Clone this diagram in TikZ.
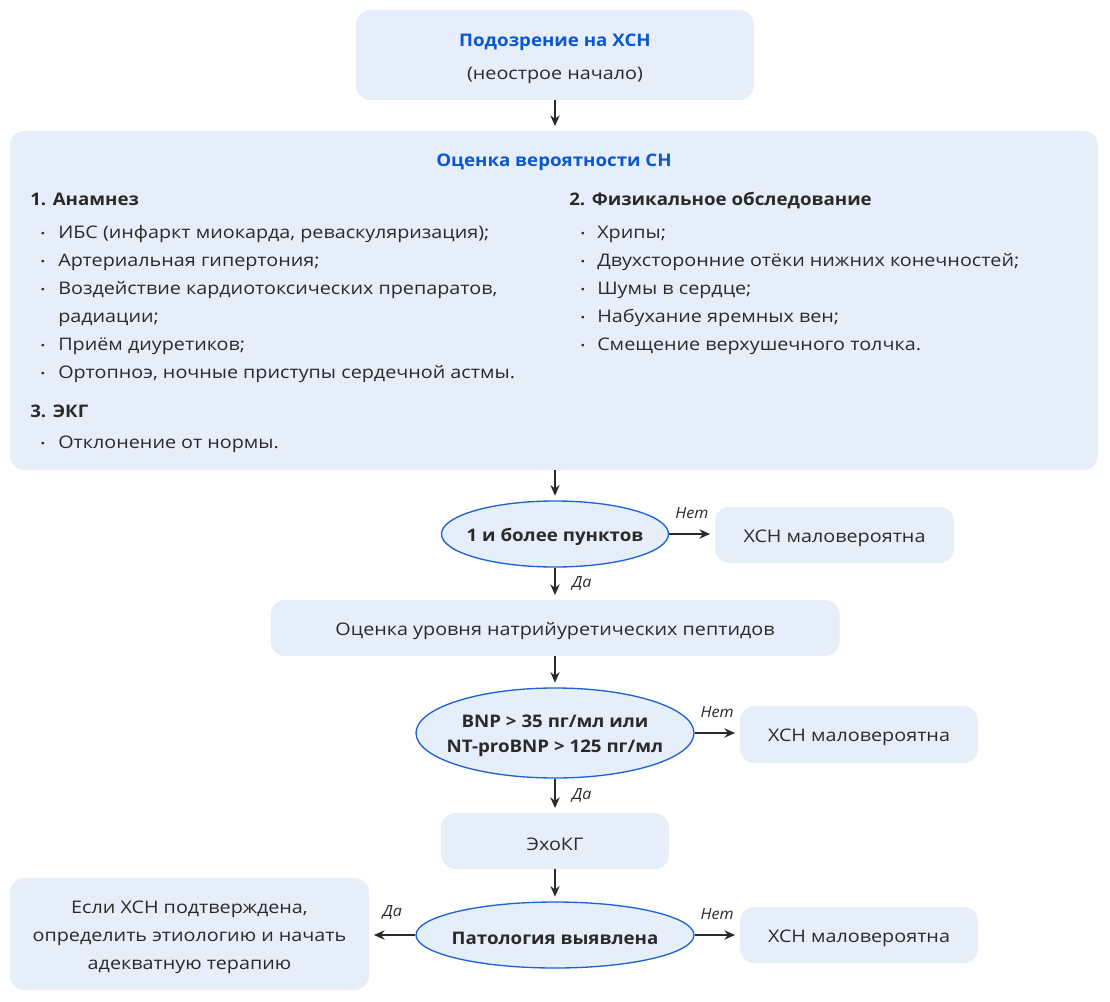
\documentclass[tikz,border=0pt]{standalone}
\usepackage{fontspec}
\setmainfont{Open Sans}[FakeStretch=1.14, BoldFeatures={FakeStretch=1.08}, ItalicFeatures={FakeStretch=1.05}]
\usetikzlibrary{arrows.meta,shapes.geometric}
\definecolor{boxfill}{HTML}{E6EEFA}
\definecolor{blueline}{HTML}{1B63D6}
\definecolor{titleblue}{HTML}{0B57D0}
\definecolor{txt}{HTML}{2A2A2A}
\tikzset{
  base/.style={font=\fontsize{13}{15}\selectfont, text=txt},
  box/.style={fill=boxfill, rounded corners=11pt, inner sep=0pt},
  tx/.style={base, align=center, inner sep=0pt, yshift=-2.3pt},
  dec/.style={ellipse, draw=blueline, line width=1pt, fill=boxfill, inner sep=0pt},
  dtext/.style={base, font=\fontsize{13}{15}\selectfont\bfseries, align=center, inner sep=0pt, yshift=-2.3pt},
  ttl/.style={base, font=\fontsize{13}{15}\selectfont\bfseries, text=titleblue, inner sep=0pt, yshift=-1.5pt},
  hd/.style={base, font=\fontsize{13}{15}\selectfont\bfseries, anchor=mid west, inner sep=0pt, yshift=-2.8pt},
  it/.style={base, anchor=mid west, inner sep=0pt, yshift=-2.8pt},
  bul/.style={base, anchor=center, inner sep=0pt, font=\fontsize{8}{8}\selectfont, yshift=-2.8pt},
  arr/.style={-{Stealth[length=8pt,width=7pt]}, line width=1.1pt, draw=txt},
  lbl/.style={base, font=\fontsize{11.5}{13}\selectfont\itshape}
}
\begin{document}
\begin{tikzpicture}[x=0.75pt,y=-0.75pt]
\useasboundingbox (0,0) rectangle (1110,1002);
\fill[white] (0,0) rectangle (1110,1002);

% top box
\node[box, minimum width=298.5pt, minimum height=67.5pt] (top) at (555,55) {};
\node[ttl] (topt) at (555,40) {Подозрение на ХСН};
\node[tx] (tops) at (555,72) {(неострое начало)};

% big box
\node[box, minimum width=816pt, minimum height=254.25pt] (big) at (554,300.5) {};
\node[ttl] (bigt) at (554,160) {Оценка вероятности СН};
\node[hd] (h1) at (30,198) {1. Анамнез};
\node[bul] (b11) at (43,231) {•}; \node[it] (l11) at (58,231) {ИБС (инфаркт миокарда, реваскуляризация);};
\node[bul] (b12) at (43,259) {•}; \node[it] (l12) at (58,259) {Артериальная гипертония;};
\node[bul] (b13) at (43,287) {•}; \node[it] (l13) at (58,287) {Воздействие кардиотоксических препаратов,};
\node[it] (l14) at (58,315) {радиации;};
\node[bul] (b15) at (43,343) {•}; \node[it] (l15) at (58,343) {Приём диуретиков;};
\node[bul] (b16) at (43,371) {•}; \node[it] (l16) at (58,371) {Ортопноэ, ночные приступы сердечной астмы.};
\node[hd] (h3) at (30,410) {3. ЭКГ};
\node[bul] (b31) at (43,441) {•}; \node[it] (l31) at (58,441) {Отклонение от нормы.};
\node[hd] (h2) at (569,198) {2. Физикальное обследование};
\node[bul] (b21) at (583,231) {•}; \node[it] (l21) at (597,231) {Хрипы;};
\node[bul] (b22) at (583,259) {•}; \node[it] (l22) at (597,259) {Двухсторонние отёки нижних конечностей;};
\node[bul] (b23) at (583,287) {•}; \node[it] (l23) at (597,287) {Шумы в сердце;};
\node[bul] (b24) at (583,315) {•}; \node[it] (l24) at (597,315) {Набухание яремных вен;};
\node[bul] (b25) at (583,343) {•}; \node[it] (l25) at (597,343) {Смещение верхушечного толчка.};

% decision 1
\node[dec, minimum width=170.25pt, minimum height=49.5pt] (d1) at (555,534) {};
\node[dtext] (d1t) at (d1) {1 и более пунктов};
\node[box, minimum width=179.25pt, minimum height=42pt] (n1) at (834.5,535) {};
\node[tx] (n1t) at (n1) {ХСН маловероятна};

% peptides
\node[box, minimum width=426.75pt, minimum height=42pt] (pep) at (555,628) {};
\node[tx] (pept) at (pep) {Оценка уровня натрийуретических пептидов};

% decision 2
\node[dec, minimum width=208.5pt, minimum height=67.5pt] (d2) at (555,733) {};
\node[dtext] (d2t) at (d2) {BNP > 35 пг/мл или\\[4pt]NT-proBNP > 125 пг/мл};
\node[box, minimum width=178.5pt, minimum height=42.75pt] (n2) at (859,734.5) {};
\node[tx] (n2t) at (n2) {ХСН маловероятна};

% echo
\node[box, minimum width=171pt, minimum height=42pt] (echo) at (555,841) {};
\node[tx] (echot) at (echo) {ЭхоКГ};

% decision 3
\node[dec, minimum width=208.5pt, minimum height=49.5pt] (d3) at (555,935) {};
\node[dtext] (d3t) at (d3) {Патология выявлена};
\node[box, minimum width=178.5pt, minimum height=42pt] (n3) at (859,935) {};
\node[tx] (n3t) at (n3) {ХСН маловероятна};
\node[box, minimum width=269.25pt, minimum height=84pt] (yes) at (189.5,934) {};
\node[tx, font=\fontsize{13}{21}\selectfont] (yest) at (yes) {Если ХСН подтверждена,\\определить этиологию и начать\\адекватную терапию};

% arrows
\draw[arr, shorten >=3.5pt] (top.south) -- (top.south |- big.north);
\draw[arr, shorten >=3.5pt] (d1.north |- big.south) -- (d1.north);
\draw[arr, shorten >=3.5pt] (d1.east) -- (n1.west |- d1.east) node[lbl, midway, above=8pt] (nl1) {Нет};
\draw[arr, shorten >=3.5pt] (d1.south) -- (d1.south |- pep.north) node[lbl, midway, right=9pt] (yl1) {Да};
\draw[arr, shorten >=3.5pt] (pep.south) -- (d2.north);
\draw[arr, shorten >=3.5pt] (d2.east) -- (n2.west |- d2.east) node[lbl, midway, above=8pt] (nl2) {Нет};
\draw[arr, shorten >=3.5pt] (d2.south) -- (echo.north) node[lbl, midway, right=9pt] (yl2) {Да};
\draw[arr, shorten >=3.5pt] (echo.south) -- (d3.north);
\draw[arr, shorten >=3.5pt] (d3.east) -- (n3.west |- d3.east) node[lbl, midway, above=8pt] (nl3) {Нет};
\draw[arr, shorten >=3.5pt] (d3.west) -- (yes.east |- d3.west) node[lbl, midway, above=8pt] (yl3) {Да};
\end{tikzpicture}
\end{document}
